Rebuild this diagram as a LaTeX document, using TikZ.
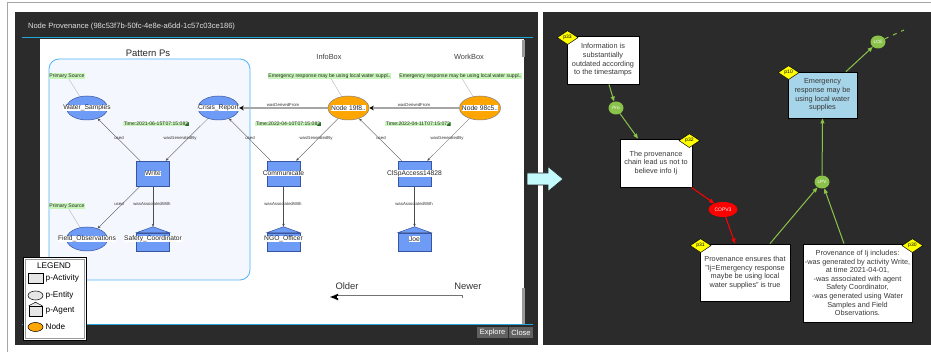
\documentclass[tikz,border=0pt]{standalone}
\usepackage{fontspec}
\setmainfont{Liberation Sans}
\usetikzlibrary{shapes.geometric,arrows.meta}

\definecolor{panel}{RGB}{43,43,43}
\definecolor{winline}{RGB}{35,165,215}
\definecolor{patternline}{RGB}{80,180,250}
\definecolor{patternbg}{RGB}{245,247,254}
\definecolor{nodeblue}{RGB}{110,155,245}
\definecolor{nodeline}{RGB}{55,85,160}
\definecolor{provorange}{RGB}{255,165,0}
\definecolor{notegreen}{RGB}{200,245,185}
\definecolor{notedark}{RGB}{40,110,40}
\definecolor{argreen}{RGB}{139,195,74}
\definecolor{pidyellow}{RGB}{255,255,0}
\definecolor{claimblue}{RGB}{166,212,232}
\definecolor{arrowcyan}{RGB}{195,250,252}
\definecolor{legendgray}{RGB}{230,230,230}

\pgfdeclarelayer{back}
\pgfdeclarelayer{links}
\pgfsetlayers{back,links,main}

\newcommand{\fsz}[2]{\fontsize{#1}{#2}\selectfont}
% shape with a white band for its text
\newcommand{\provshape}[4]{%
  \node[#1] (#2) at (#3) {};
  \node[tag] (#2-t) at (#2) {#4};}
% agent: body, roof, text band
\newcommand{\agentnode}[3]{%
  \node[agent] (#1) at (#2) {};
  \filldraw[fill=nodeblue, draw=nodeline, line width=0.5pt] (#1.north west) -- ([yshift=6pt]#1.north) coordinate (#1-top) -- (#1.north east) -- cycle;
  \node[tag] (#1-t) at ([yshift=3pt]#1.center) {#3};}

\tikzset{
  entity/.style={ellipse, draw=nodeline, line width=0.5pt, fill=nodeblue, minimum width=41pt, minimum height=24pt, inner sep=0pt},
  activity/.style={rectangle, draw=nodeline, line width=0.5pt, fill=nodeblue, minimum width=33pt, minimum height=25pt, inner sep=0pt},
  agent/.style={rectangle, draw=nodeline, line width=0.5pt, fill=nodeblue, minimum width=33pt, minimum height=18pt, inner sep=0pt},
  provnode/.style={ellipse, draw=black!50, line width=0.5pt, fill=provorange, minimum width=41pt, minimum height=24pt, inner sep=0pt},
  tag/.style={fill=white, inner sep=0.3pt, font=\fsz{6.7}{8}, text=black!85},
  rel/.style={draw=black!70, line width=0.35pt, -{Stealth[length=3pt,width=2.4pt]}},
  derived/.style={draw=black!35, line width=1.6pt, -{Stealth[length=4.5pt,width=4.5pt,black]}},
  rellabel/.style={font=\fsz{4.3}{5}, inner sep=0.3pt, text=black!80},
  note/.style={fill=notegreen, inner sep=0.5pt, font=\fsz{5.1}{6}, text=black!85},
  noteline/.style={draw=black!35, line width=0.3pt},
  boxtitle/.style={font=\fsz{7.4}{9}, text=black!75},
  legendtext/.style={font=\fsz{8.2}{10}, text=black, inner sep=0pt},
  legendicon/.style={draw=black, line width=0.5pt, fill=legendgray, inner sep=0pt},
  button/.style={fill=black!62, text=white!85, font=\fsz{7.5}{9}, minimum height=11pt, inner sep=0pt},
  claim/.style={rectangle, draw=black, line width=0.8pt, fill=white, align=center, text=black!78, font=\fsz{7.3}{8.6}, inner sep=1pt},
  pid/.style={diamond, draw=black, fill=pidyellow, line width=0.5pt, minimum width=21pt, minimum height=14pt, inner sep=0pt, font=\fsz{5}{6}},
  argnode/.style={ellipse, fill=argreen, text=white, minimum width=15pt, minimum height=13pt, inner sep=0pt, font=\fsz{4.6}{5}},
  supports/.style={draw=argreen, line width=1pt, -{Triangle[length=5pt,width=4pt]}},
  attacks/.style={draw=red, line width=1pt, -{Triangle[length=5pt,width=4pt]}},
}

\begin{document}
\begin{tikzpicture}[x=1pt,y=-1pt]
\useasboundingbox (0,0) rectangle (931,352);

\begin{pgfonlayer}{back}
\draw[black!35, line width=1pt] (7,352) -- (7,3) -- (931,3);
% left window
\fill[panel] (15,12) rectangle (538,345);
\draw[winline, line width=1pt] (22,38) -- (533,38);
\fill[white] (40,39) rectangle (524,324);
\draw[winline, line width=1pt] (22,324.5) -- (533,324.5);
\fill[black!40] (522,40) rectangle (524.5,57);
\fill[black!40] (522,288) rectangle (524.5,324);
% pattern box
\draw[patternline, fill=patternbg, line width=0.8pt, rounded corners=10pt] (49,59) rectangle (250,280);
% right panel
\fill[panel] (543,12) rectangle (931,345);
\end{pgfonlayer}

\node[anchor=west, text=black!12, font=\fsz{7.6}{9}] (title) at (24.5,27) {Node Provenance (98c53f7b-50fc-4e8e-a6dd-1c57c03ce186)};
\node[button, minimum width=31pt] (explore) at (492.5,332.5) {Explore};
\node[button, minimum width=24pt] (close) at (521,332.5) {Close};

\node[font=\fsz{9.5}{11}, text=black!85] (ptitle) at (148,53) {Pattern Ps};
\node[boxtitle] (infotitle) at (329,57) {InfoBox};
\node[boxtitle] (worktitle) at (469,57) {WorkBox};

% provenance graph
\provshape{entity}{water}{87,108}{Water\_Samples}
\provshape{entity}{crisis}{218.5,108}{Crisis\_Report}
\provshape{activity}{write}{153,173.5}{Write}
\provshape{entity}{fieldobs}{87,239}{Field\_Observations}
\agentnode{safety}{153,242}{Safety\_Coordinator}
\provshape{provnode}{node19}{348.5,108}{Node 19f8..}
\provshape{provnode}{node98}{480,108}{Node 98c5..}
\provshape{activity}{comm}{283.5,173.5}{Communicate}
\provshape{activity}{clsp}{414.5,173.5}{ClSpAccess14828}
\agentnode{ngo}{283.5,242}{NGO\_Officer}
\agentnode{joe}{414.5,242}{Joe}

\begin{pgfonlayer}{links}
\draw[rel] (write) -- (water);
\draw[rel] (crisis) -- (write);
\draw[rel] (write) -- (fieldobs);
\draw[rel] (write) -- (safety-top);
\draw[rel] (comm) -- (crisis);
\draw[rel] (node19) -- (comm);
\draw[rel] (clsp) -- (node19);
\draw[rel] (node98) -- (clsp);
\draw[rel] (comm) -- (ngo-top);
\draw[rel] (clsp) -- (joe-top);
\draw[derived] (node98) -- (node19);
\draw[derived] (node19) -- (crisis);
\end{pgfonlayer}

\node[rellabel] (lab1) at (119,138) {used};
\node[rellabel] (lab2) at (180,138) {wasGeneratedBy};
\node[rellabel] (lab3) at (119,204) {used};
\node[rellabel] (lab4) at (152,204) {wasAssociatedWith};
\node[rellabel] (lab5) at (250,138) {used};
\node[rellabel] (lab6) at (316,138) {wasGeneratedBy};
\node[rellabel] (lab7) at (381,138) {used};
\node[rellabel] (lab8) at (447,138) {wasGeneratedBy};
\node[rellabel] (lab9) at (283,204) {wasAssociatedWith};
\node[rellabel] (lab10) at (414,204) {wasAssociatedWith};
\node[rellabel] (lab11) at (283,105) {wasDerivedFrom};
\node[rellabel] (lab12) at (414,105) {wasDerivedFrom};

% notes
\node[note] (ps1) at (67,76) {Primary Source};
\node[note] (ps2) at (67,206) {Primary Source};
\node[note] (em1) at (329.5,76) {Emergency response may be using local water suppl..};
\node[note] (em2) at (460.5,76) {Emergency response may be using local water suppl..};
\begin{pgfonlayer}{links}
\draw[noteline] (ps1) -- (water);
\draw[noteline] (ps2) -- (fieldobs);
\draw[noteline] (em1) -- (node19);
\draw[noteline] (em2) -- (node98);
\end{pgfonlayer}
\node[note] (time1) at (156,124) {Time:2021-06-15T07:15:082};
\node[note] (time2) at (288,124) {Time:2022-04-10T07:15:082};
\node[note] (time3) at (418,124) {Time:2022-04-11T07:15:072};
\foreach \t in {time1,time2,time3}
  \fill[notedark] ([xshift=-4pt,yshift=-2pt]\t.east) -- ++(4pt,0pt) -- ++(0pt,4pt) -- cycle;

% older / newer
\node[font=\fsz{9.4}{11}, text=black!80] (older) at (347,286) {Older};
\node[font=\fsz{9.4}{11}, text=black!80] (newer) at (468,286) {Newer};
\coordinate (newend) at (463,297);
\coordinate (oldend) at (329,297);
\draw[black!55, line width=3pt, -{Latex[length=9pt,width=7pt,black]}] (newend) -- (oldend);
\draw[white, line width=1.4pt, shorten <=0.8pt, shorten >=8pt] (newend) -- (oldend);

% legend
\draw[black, line width=0.8pt, fill=white] (23,257) rectangle (86,340);
\draw[black!40, line width=0.4pt] (25,259) rectangle (84,338);
\node[legendtext] (leg) at (54,266) {LEGEND};
\node[legendicon, rectangle, minimum width=15pt, minimum height=10pt] (leg-act) at (35.5,278.5) {};
\node[legendicon, ellipse, minimum width=15pt, minimum height=9pt] (leg-ent) at (35.5,295.5) {};
\node[legendicon, rectangle, minimum width=13pt, minimum height=10pt] (leg-agt) at (35.5,311) {};
\filldraw[fill=legendgray, draw=black, line width=0.5pt] (leg-agt.north west) -- ([yshift=3.5pt]leg-agt.north) -- (leg-agt.north east);
\node[legendicon, ellipse, fill=provorange, minimum width=15pt, minimum height=9pt] (leg-node) at (35.5,327) {};
\node[legendtext, anchor=west] (leg-act-t) at (45.5,278.5) {p-Activity};
\node[legendtext, anchor=west] (leg-ent-t) at (45.5,295.5) {p-Entity};
\node[legendtext, anchor=west] (leg-agt-t) at (45.5,311) {p-Agent};
\node[legendtext, anchor=west] (leg-node-t) at (45.5,327) {Node};

% right panel: argument graph
\node[claim, minimum width=72pt, minimum height=48pt] (p33) at (603,60) {Information is\\substantially\\outdated according\\to the timestamps};
\node[claim, minimum width=72pt, minimum height=48pt] (p32) at (656,163) {The provenance\\chain lead us not to\\believe info Ij};
\node[claim, minimum width=90pt, minimum height=57pt] (p31) at (745,272.5) {Provenance ensures that\\"Ij=Emergency response\\maybe be using local\\water supplies" is true};
\node[claim, minimum width=109pt, minimum height=78pt] (p30) at (857.5,283) {Provenance of Ij includes:\\-was generated by activity Write,\\at time 2021-04-01,\\-was associated with agent\\Safety Coordinator,\\-was generated using Water\\Samples and Field\\Observations.};
\node[claim, fill=claimblue, minimum width=69pt, minimum height=46pt] (p10) at (822.5,95) {Emergency\\response may be\\using local water\\supplies};

\node[pid] (p33-id) at ([xshift=1pt,yshift=-2pt]p33.north west) {p33};
\node[pid] (p32-id) at ([xshift=-3pt,yshift=-2pt]p32.north east) {p32};
\node[pid] (p31-id) at ([xshift=1pt,yshift=-2pt]p31.north west) {p31};
\node[pid] (p30-id) at ([yshift=-2pt]p30.north east) {p30};
\node[pid] (p10-id) at ([xshift=1pt,yshift=-1pt]p10.north west) {p10};

\node[argnode] (pro) at (616,108) {Pro};
\node[argnode, fill=red, minimum width=29pt, minimum height=15pt, font=\fsz{5}{6}] (copv3) at (723,209.5) {COPV3};
\node[argnode] (lpv) at (822,182) {LPV};
\node[argnode] (lce) at (878,42) {LCE};
\coordinate (lce-end) at (904,30);

\draw[supports] ([xshift=6pt]p33.south) -- (pro);
\draw[supports] (pro) -- ([xshift=-18pt]p32.north);
\draw[attacks] ([xshift=-1pt]p32.south east) -- (copv3);
\draw[attacks] (copv3) -- ([xshift=-10pt]p31.north);
\draw[supports] ([xshift=25pt]p31.north) -- (lpv);
\draw[supports] ([xshift=-13.5pt]p30.north) -- (lpv);
\draw[supports] (lpv) -- (p10.south);
\draw[supports] ([xshift=23.5pt]p10.north) -- (lce);
\draw[argreen, line width=1pt, dash pattern=on 4pt off 5pt] (lce) -- (lce-end);

% link between the panels
\filldraw[fill=arrowcyan, draw=black!85, line width=0.6pt] (527,173) -- (548,173) -- (548,166.5) -- (563,179) -- (548,191.5) -- (548,185) -- (527,185) -- cycle;
\end{tikzpicture}
\end{document}
